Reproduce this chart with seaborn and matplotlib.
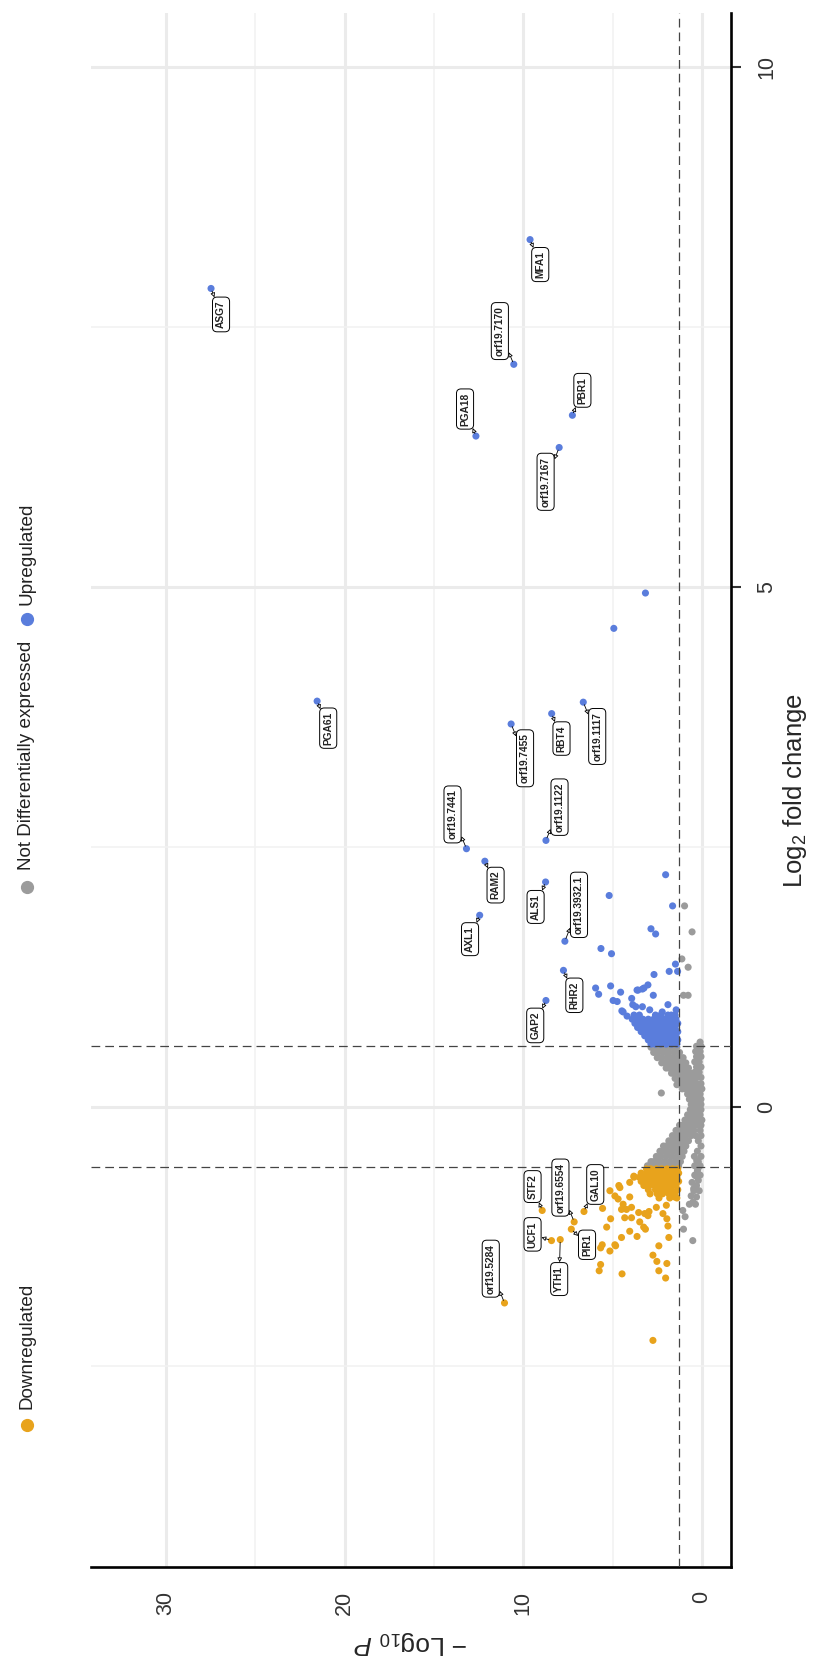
import matplotlib
matplotlib.use("Agg")
import matplotlib.pyplot as plt
from matplotlib.lines import Line2D
import seaborn as sns
import pandas as pd

# x = -log10 P, y = log2 fold change (plot is drawn turned by 90 degrees)

# labelled genes
genes = ["ASG7", "MFA1", "orf19.7170", "PBR1", "PGA18", "orf19.7167", "PGA61",
         "orf19.7455", "RBT4", "orf19.1117", "orf19.1122", "orf19.7441", "RAM2",
         "ALS1", "AXL1", "orf19.3932.1", "RHR2", "GAP2",
         "STF2", "orf19.6554", "GAL10", "UCF1", "YTH1", "PIR1", "orf19.5284"]
gene_p = [27.48, 9.62, 10.53, 7.25, 12.65, 7.99, 21.54,
          10.68, 8.41, 6.64, 8.73, 13.18, 12.15,
          8.75, 12.44, 7.67, 7.75, 8.73,
          8.94, 7.15, 6.60, 8.42, 7.93, 7.31, 11.05]
gene_fc = [7.87, 8.34, 7.14, 6.65, 6.45, 6.34, 3.90,
           3.68, 3.78, 3.89, 2.56, 2.48, 2.36,
           2.16, 1.84, 1.59, 1.31, 1.02,
           -1.00, -1.11, -1.01, -1.29, -1.28, -1.18, -1.89]

# other up-regulated genes
up_p = [3.16, 4.93, 5.19, 2.03, 1.64, 2.85, 2.59, 5.65, 5.06, 1.48,
        1.83, 2.68, 5.95, 5.78, 5.11, 4.55, 3.57, 3.24, 3.02, 2.72,
        4.97, 4.74, 4.41, 4.19, 3.93, 3.87, 3.70, 3.33, 2.92, 1.90,
        1.44, 2.22, 1.71, 3.63, 3.33, 4.48, 1.36]
up_fc = [4.94, 4.60, 2.03, 2.23, 1.93, 1.71, 1.66, 1.52, 1.47, 1.37,
         1.30, 1.27, 1.14, 1.08, 1.16, 1.10, 1.12, 1.14, 1.17, 1.07,
         1.02, 1.01, 0.91, 0.87, 1.04, 0.98, 0.96, 0.96, 0.93, 0.98,
         0.93, 0.91, 0.88, 1.12, 1.13, 0.92, 1.30]
up_rows = {
    0.88: [3.8, 3.5, 2.6, 2.3, 1.9, 1.5],
    0.84: [3.9, 3.6, 3.3, 3.0, 2.7, 2.4, 2.1, 1.8, 1.45],
    0.80: [3.75, 3.45, 3.15, 2.85, 2.55, 2.25, 1.95, 1.65, 1.35],
    0.76: [3.6, 3.3, 3.0, 2.7, 2.4, 2.1, 1.8, 1.5],
    0.72: [3.4, 3.1, 2.8, 2.5, 2.2, 1.9, 1.6, 1.35],
    0.68: [3.2, 2.95, 2.65, 2.35, 2.05, 1.75, 1.45],
    0.64: [3.0, 2.75, 2.5, 2.2, 1.9, 1.6, 1.35],
    0.60: [2.85, 2.6, 2.3, 2.0, 1.7, 1.4],
}

# other down-regulated genes
down_p = [3.81, 5.15, 4.87, 4.59, 4.69, 4.41, 4.04, 5.56, 4.50, 4.22,
          3.94, 5.11, 4.32, 3.94, 3.54, 3.20, 2.96, 2.55, 1.99, 1.53,
          3.48, 3.26, 3.02, 1.96, 1.90, 2.18, 5.33, 4.04, 4.50, 3.63,
          4.87, 5.15, 5.58, 5.67, 2.41, 1.85, 5.67, 5.75, 4.47, 2.74,
          2.52, 1.96, 2.41, 2.03, 2.74, 4.65, 4.04, 3.16, 4.83]
down_fc = [-0.67, -0.81, -0.86, -0.78, -0.89, -0.94, -0.87, -0.98, -0.99, -0.99,
           -0.97, -1.08, -1.07, -1.07, -1.02, -1.03, -1.01, -0.97, -0.95, -0.87,
           -1.11, -1.16, -1.05, -1.08, -1.15, -1.03, -1.16, -1.20, -1.26, -1.25,
           -1.33, -1.39, -1.33, -1.36, -1.34, -1.26, -1.52, -1.58, -1.61, -1.43,
           -1.49, -1.51, -1.58, -1.65, -2.25, -0.76, -0.73, -1.18, -1.34]
down_rows = {
    -0.60: [1.35, 1.65, 1.95, 2.25, 2.55, 2.85, 3.1],
    -0.64: [1.3, 1.6, 1.9, 2.2, 2.5, 2.8, 3.1, 3.4],
    -0.68: [1.4, 1.7, 2.0, 2.3, 2.6, 2.9, 3.2, 3.5, 3.8],
    -0.72: [1.3, 1.6, 1.9, 2.2, 2.5, 2.8, 3.1, 3.4],
    -0.76: [1.45, 1.75, 2.05, 2.35, 2.65, 2.95, 3.25],
    -0.80: [1.35, 1.7, 2.0, 2.3, 2.6, 3.0],
    -0.84: [1.5, 1.85, 2.2, 2.5, 2.9],
    -0.88: [1.4, 1.8, 2.4],
}

# not differentially expressed
ns_p = [0.97, 0.55, 1.12, 0.77, 1.03, 0.77, 2.27, 1.40, 1.53, 1.07,
        0.94, 1.03, 0.51, 0.70, 0.36, 0.60, 0.46, 0.55, 0.32, 0.23,
        0.29, 0.42]
ns_fc = [1.93, 1.68, 1.42, 1.34, 1.07, 1.07, 0.13, 0.21, -0.30, -1.00,
         -1.06, -1.18, -1.29, -0.94, -0.94, -0.86, -0.79, -0.73, -0.67, -0.60,
         -0.52, -0.48]
ns_rows = {
    0.62: [0.1], 0.58: [0.05, 0.3], 0.57: [1.4, 1.7, 2.0, 2.3, 2.6, 2.85],
    0.53: [0.1, 0.35], 0.52: [1.25, 1.55, 1.85, 2.15, 2.45, 2.7],
    0.48: [0.05, 0.3], 0.47: [1.05, 1.35, 1.65, 1.95, 2.25, 2.5],
    0.43: [0.15, 0.4], 0.42: [0.9, 1.2, 1.5, 1.8, 2.05, 2.25],
    0.38: [0.05, 0.3], 0.37: [0.75, 1.05, 1.35, 1.6, 1.85, 2.0],
    0.33: [0.15, 0.4], 0.32: [0.6, 0.9, 1.2, 1.45, 1.7],
    0.28: [0.05, 0.25], 0.27: [0.45, 0.75, 1.0, 1.25, 1.5],
    0.22: [0.05, 0.3, 0.6, 0.85, 1.1, 1.3],
    0.17: [0.0, 0.2, 0.45, 0.7, 0.95, 1.1],
    0.12: [0.1, 0.35, 0.6, 0.8],
    0.07: [0.05, 0.3, 0.5, 0.7],
    0.02: [0.05, 0.25, 0.45, 0.6],
    -0.03: [0.05, 0.25, 0.45, 0.65],
    -0.08: [0.1, 0.35, 0.6, 0.8],
    -0.13: [0.0, 0.15, 0.45, 0.7, 0.95],
    -0.18: [0.05, 0.3, 0.6, 0.85, 1.1, 1.25],
    -0.23: [0.1, 0.45, 0.75, 1.0, 1.25, 1.45],
    -0.28: [0.05, 0.35, 0.6, 0.9, 1.15, 1.4, 1.65],
    -0.33: [0.2, 0.75, 1.05, 1.3, 1.55, 1.85],
    -0.38: [0.05, 0.9, 1.2, 1.45, 1.7, 2.0, 2.15],
    -0.43: [0.25, 1.0, 1.3, 1.6, 1.9, 2.15, 2.35],
    -0.48: [0.05, 1.1, 1.4, 1.7, 2.0, 2.3, 2.55],
    -0.53: [0.2, 1.2, 1.5, 1.8, 2.1, 2.4, 2.7, 2.85],
    -0.57: [0.1, 0.4, 1.3, 1.6, 1.9, 2.2, 2.5, 2.8, 3.05],
    -0.62: [0.25], -0.66: [0.1, 0.4], -0.71: [0.2], -0.76: [0.3],
    -0.81: [0.15, 0.45], -0.87: [0.3], -0.92: [0.5],
}

groups = ["Downregulated", "Not Differentially expressed", "Upregulated"]
colours = ["#E8A31C", "#9B9B9B", "#5A7DDC"]

p_cut = 1.30103      # -log10(0.05)
fc_cut = 0.585

# label box placement (layout)
label_pos = {
    "ASG7": (26.92, 7.62), "MFA1": (9.05, 8.10), "orf19.7170": (11.31, 7.46),
    "PBR1": (6.69, 6.89), "PGA18": (13.26, 6.71), "orf19.7167": (8.75, 6.01),
    "PGA61": (20.92, 3.64), "orf19.7455": (9.90, 3.35), "RBT4": (7.86, 3.54),
    "orf19.1117": (5.86, 3.56), "orf19.1122": (7.97, 2.88), "orf19.7441": (13.96, 2.81),
    "RAM2": (11.55, 2.13), "ALS1": (9.31, 1.92), "AXL1": (12.98, 1.61),
    "orf19.3932.1": (6.88, 1.94), "RHR2": (7.14, 1.07), "GAP2": (9.33, 0.78),
    "STF2": (9.48, -0.77), "orf19.6554": (7.92, -0.78), "GAL10": (5.97, -0.75),
    "UCF1": (9.48, -1.23), "YTH1": (7.99, -1.66), "PIR1": (6.43, -1.33),
    "orf19.5284": (11.82, -1.56),
}

# ---- build table ----
def rows_to_lists(rows):
    ps, fcs = [], []
    for fc, plist in rows.items():
        for p in plist:
            ps.append(p)
            fcs.append(fc)
    return ps, fcs

upr_p, upr_fc = rows_to_lists(up_rows)
dnr_p, dnr_fc = rows_to_lists(down_rows)
nsr_p, nsr_fc = rows_to_lists(ns_rows)

gene_group = [groups[2] if fc > 0 else groups[0] for fc in gene_fc]

df = pd.concat([
    pd.DataFrame({"p": ns_p + nsr_p, "fc": ns_fc + nsr_fc, "group": groups[1]}),
    pd.DataFrame({"p": up_p + upr_p, "fc": up_fc + upr_fc, "group": groups[2]}),
    pd.DataFrame({"p": down_p + dnr_p, "fc": down_fc + dnr_fc, "group": groups[0]}),
    pd.DataFrame({"p": gene_p, "fc": gene_fc, "group": gene_group}),
], ignore_index=True)

# ---- figure ----
sns.set_style("white")
plt.rcParams["font.family"] = ["Liberation Sans", "DejaVu Sans"]
plt.rcParams["mathtext.fontset"] = "custom"
plt.rcParams["mathtext.rm"] = "Liberation Sans"
plt.rcParams["mathtext.it"] = "Liberation Sans:italic"

W, H = 817, 1679
fig = plt.figure(figsize=(W / 100, H / 100), dpi=100)
ax = fig.add_axes([91 / W, (H - 1567) / H, (731 - 91) / W, (1567 - 13) / H])

sns.scatterplot(data=df, x="p", y="fc", hue="group", hue_order=groups,
                palette=dict(zip(groups, colours)), s=26, linewidth=0,
                legend=False, ax=ax, zorder=2)

ax.set_xlim(34.2, -1.63)
ax.set_ylim(-4.43, 10.52)

ax.set_xticks([0, 10, 20, 30])
ax.set_xticks([5, 15, 25], minor=True)
ax.set_yticks([0, 5, 10])
ax.set_yticks([-2.5, 2.5, 7.5], minor=True)
ax.grid(which="major", color="#EBEBEB", lw=2.2)
ax.grid(which="minor", color="#F2F2F2", lw=1.2)
ax.set_axisbelow(True)

for s in ["left", "top"]:
    ax.spines[s].set_visible(False)
for s in ["right", "bottom"]:
    ax.spines[s].set_linewidth(1.9)
    ax.spines[s].set_color("black")

ax.yaxis.tick_right()
ax.yaxis.set_label_position("right")
ax.tick_params(which="major", length=7, width=1.5, color="#333333",
               labelsize=15.5, labelcolor="#333333")
ax.tick_params(axis="y", pad=11)
ax.tick_params(axis="x", pad=10)
ax.tick_params(which="minor", length=0)
for lab in ax.get_yticklabels():
    lab.set_rotation(90)
    lab.set_va("center")
for lab in ax.get_xticklabels():
    lab.set_rotation(90)
    lab.set_ha("center")

ax.set_xlabel(r"$-$ Log$_{10}$ $\it{P}$", fontsize=19, rotation=180, labelpad=10)
ax.set_ylabel(r"Log$_2$ fold change", fontsize=18.5, labelpad=3)

ax.axvline(p_cut, color="#444444", lw=0.9, ls=(0, (7, 4)), zorder=3)
ax.axhline(fc_cut, color="#444444", lw=0.9, ls=(0, (7, 4)), zorder=3)
ax.axhline(-fc_cut, color="#444444", lw=0.9, ls=(0, (7, 4)), zorder=3)

for name, p, fc in zip(genes, gene_p, gene_fc):
    bx, by = label_pos[name]
    ax.annotate(name, xy=(p, fc), xytext=(bx, by), textcoords="data",
                rotation=90, ha="center", va="center", fontsize=7.3,
                fontweight="bold", color="#222222",
                bbox=dict(boxstyle="round,pad=0.35,rounding_size=0.45",
                          fc="white", ec="black", lw=0.7),
                arrowprops=dict(arrowstyle="<|-,head_length=0.35,head_width=0.18",
                                fc="white", ec="black", lw=0.6,
                                shrinkA=0, shrinkB=2),
                zorder=5)

# legend, turned like the rest of the chart
leg_marker_y = [1425, 887, 619]
leg_text_y = [1409, 870, 605]
for g, c, my, ty in zip(groups, colours, leg_marker_y, leg_text_y):
    fig.add_artist(Line2D([27 / W], [1 - my / H], transform=fig.transFigure,
                          marker="o", ms=8.5, color=c, ls=""))
    fig.text(27 / W, 1 - ty / H, g, rotation=90, ha="center", va="bottom",
             fontsize=13.6, color="#222222")

fig.savefig("out.png", dpi=100)
